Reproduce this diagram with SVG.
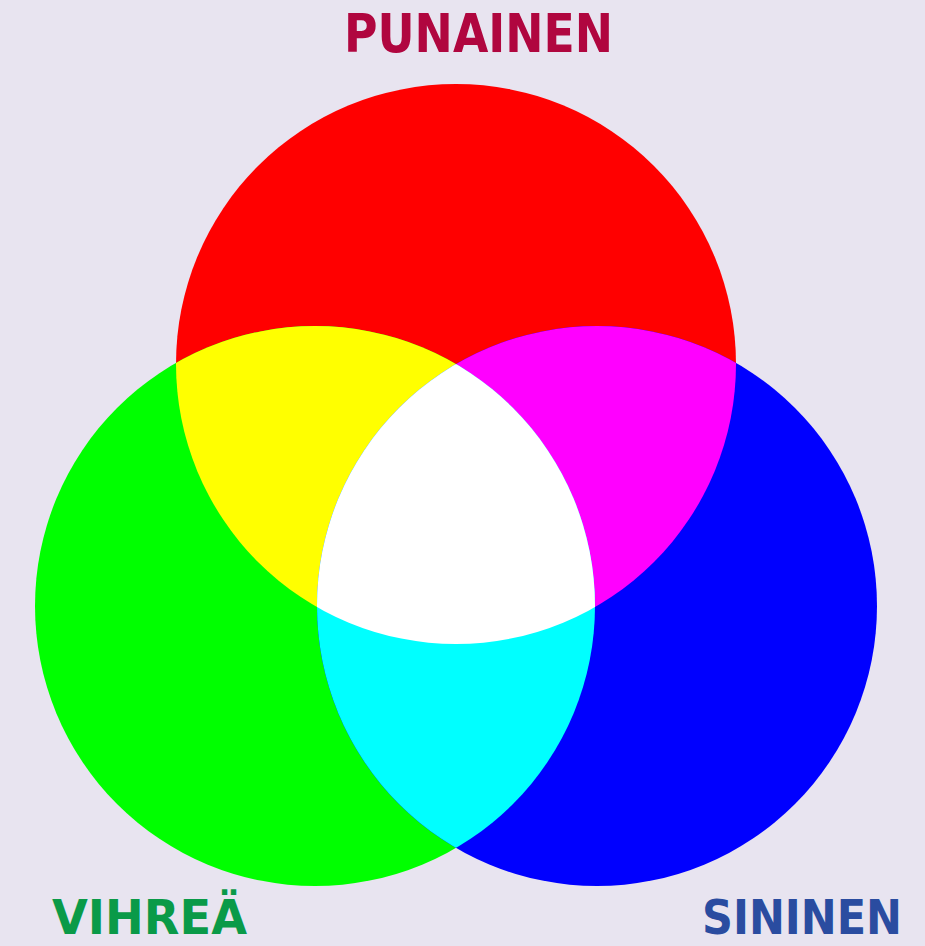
<svg xmlns="http://www.w3.org/2000/svg" width="925" height="946" viewBox="0 0 925 946">
<style>
.lbl{font-family:"DejaVu Sans","Liberation Sans",sans-serif;font-weight:bold;font-size:54px}
.bot{font-size:48px}
</style>
<defs>
<clipPath id="cr"><circle cx="456" cy="364" r="280"/></clipPath>
<clipPath id="cg"><circle cx="315" cy="606" r="280"/></clipPath>
<clipPath id="cb"><circle cx="597" cy="606" r="280"/></clipPath>
</defs>
<rect width="925" height="946" fill="#e8e4f0"/>
<g id="red"><circle cx="456" cy="364" r="280" fill="#ff0000"/></g>
<g id="green"><circle cx="315" cy="606" r="280" fill="#00ff00"/></g>
<g id="blue"><circle cx="597" cy="606" r="280" fill="#0000ff"/></g>
<g id="yellow" clip-path="url(#cr)"><circle cx="315" cy="606" r="280" fill="#ffff00"/></g>
<g id="magenta" clip-path="url(#cr)"><circle cx="597" cy="606" r="280" fill="#ff00ff"/></g>
<g id="cyan" clip-path="url(#cg)"><circle cx="597" cy="606" r="280" fill="#00ffff"/></g>
<g id="white" clip-path="url(#cr)"><g clip-path="url(#cg)"><circle cx="597" cy="606" r="280" fill="#ffffff"/></g></g>
<g id="labels">
<text class="lbl" x="344" y="52" fill="#b0063f" textLength="269" lengthAdjust="spacingAndGlyphs">PUNAINEN</text>
<text class="lbl bot" x="52" y="934" fill="#0a9a48" textLength="195" lengthAdjust="spacingAndGlyphs">VIHREÄ</text>
<text class="lbl bot" x="702" y="934" fill="#2a4ca0" textLength="200" lengthAdjust="spacingAndGlyphs">SININEN</text>
</g>
</svg>
